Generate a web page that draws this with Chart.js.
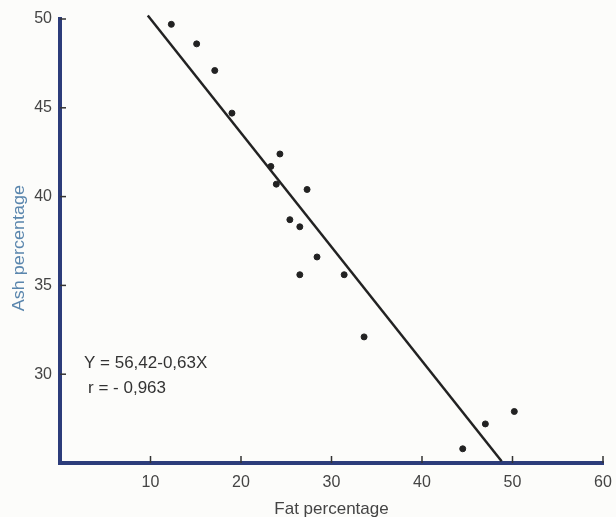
<!DOCTYPE html>
<html>
<head>
<meta charset="utf-8">
<style>
  html, body { margin: 0; padding: 0; background: #fcfcfa; }
  #wrap { width: 616px; height: 517px; }
</style>
</head>
<body>
<div id="wrap"><canvas id="fatAshChart" width="616" height="517"></canvas></div>
<script src="https://cdn.jsdelivr.net/npm/chart.js"></script>
<script>
    // samples
    var fatPct = [12.3, 15.1, 17.1, 19.0, 24.3, 23.3, 23.9, 27.3, 25.4, 26.5, 28.4, 26.5, 31.4, 33.6, 44.5, 47.0, 50.2];
    var ashPct = [49.7, 48.6, 47.1, 44.7, 42.4, 41.7, 40.7, 40.4, 38.7, 38.3, 36.6, 35.6, 35.6, 32.1, 25.8, 27.2, 27.9];
    // ends of the drawn regression line
    var lineFat = [9.7, 48.8];
    var lineAsh = [50.2, 25.1];
    var xTicks = [10, 20, 30, 40, 50, 60];
    var yTicks = [30, 35, 40, 45, 50];
    var equationText = ['Y = 56,42-0,63X', 'r = - 0,963'];

    var axisBlue = '#2c3c7a';
    var fontFam = '"Liberation Sans", Arial, sans-serif';

    var extras = {
        id: 'extras',
        afterDraw: function (chart) {
            var ctx = chart.ctx;
            var xs = chart.scales.x, ys = chart.scales.y;
            ctx.save();
            ctx.strokeStyle = '#333';
            ctx.lineWidth = 1.5;
            // inward tick marks
            xTicks.forEach(function (v) {
                var px = xs.getPixelForValue(v);
                ctx.beginPath();
                ctx.moveTo(px, ys.bottom);
                ctx.lineTo(px, ys.bottom - 7);
                ctx.stroke();
            });
            yTicks.forEach(function (v) {
                var py = ys.getPixelForValue(v);
                ctx.beginPath();
                ctx.moveTo(xs.left, py);
                ctx.lineTo(xs.left + 6, py);
                ctx.stroke();
            });
            // equation text
            ctx.fillStyle = '#333';
            ctx.font = '17px ' + fontFam;
            ctx.textBaseline = 'middle';
            ctx.fillText(equationText[0], xs.getPixelForValue(2.65), ys.getPixelForValue(30.6));
            ctx.fillText(equationText[1], xs.getPixelForValue(3.1), ys.getPixelForValue(29.2));
            // y title
            ctx.fillStyle = '#5a86ad';
            ctx.font = '17px ' + fontFam;
            ctx.textAlign = 'center';
            ctx.translate(19, ys.getPixelForValue(37.1));
            ctx.rotate(-Math.PI / 2);
            ctx.scale(1.06, 1);
            ctx.fillText('Ash percentage', 0, 0);
            ctx.restore();
        }
    };

    var ctx = document.getElementById('fatAshChart').getContext('2d');
    var fatAshChart = new Chart(ctx, {
        type: 'scatter',
        data: {
            datasets: [{
                label: 'Samples',
                data: fatPct.map(function (x, i) { return { x: x, y: ashPct[i] }; }),
                backgroundColor: '#222',
                borderColor: '#222',
                pointRadius: 3,
                pointHoverRadius: 3,
                clip: false
            }, {
                label: 'Regression',
                type: 'line',
                data: lineFat.map(function (x, i) { return { x: x, y: lineAsh[i] }; }),
                borderColor: '#222',
                borderWidth: 2.5,
                pointRadius: 0,
                fill: false,
                clip: false
            }]
        },
        options: {
            responsive: false,
            animation: false,
            layout: { padding: { top: 19, right: 13, left: 0, bottom: 0 } },
            plugins: { legend: { display: false }, tooltip: { enabled: false } },
            scales: {
                x: {
                    type: 'linear',
                    min: 0, max: 60,
                    afterBuildTicks: function (s) { s.ticks = xTicks.map(function (v) { return { value: v }; }); },
                    afterFit: function (s) { s.height = 54; },
                    grid: { display: false },
                    border: { display: true, color: axisBlue, width: 4 },
                    ticks: { color: '#444', padding: 2, maxRotation: 0, font: { size: 16, family: fontFam } },
                    title: { display: true, text: 'Fat percentage', color: '#444', padding: { top: 4, bottom: -3 }, font: { size: 17, family: fontFam } }
                },
                y: {
                    type: 'linear',
                    min: 25, max: 50,
                    afterBuildTicks: function (s) { s.ticks = yTicks.map(function (v) { return { value: v }; }); },
                    afterFit: function (s) { s.width = 60; },
                    grid: { display: false },
                    border: { display: true, color: axisBlue, width: 4 },
                    ticks: { color: '#444', padding: 0, font: { size: 16, family: fontFam } }
                }
            }
        },
        plugins: [extras]
    });
</script>
</body>
</html>
